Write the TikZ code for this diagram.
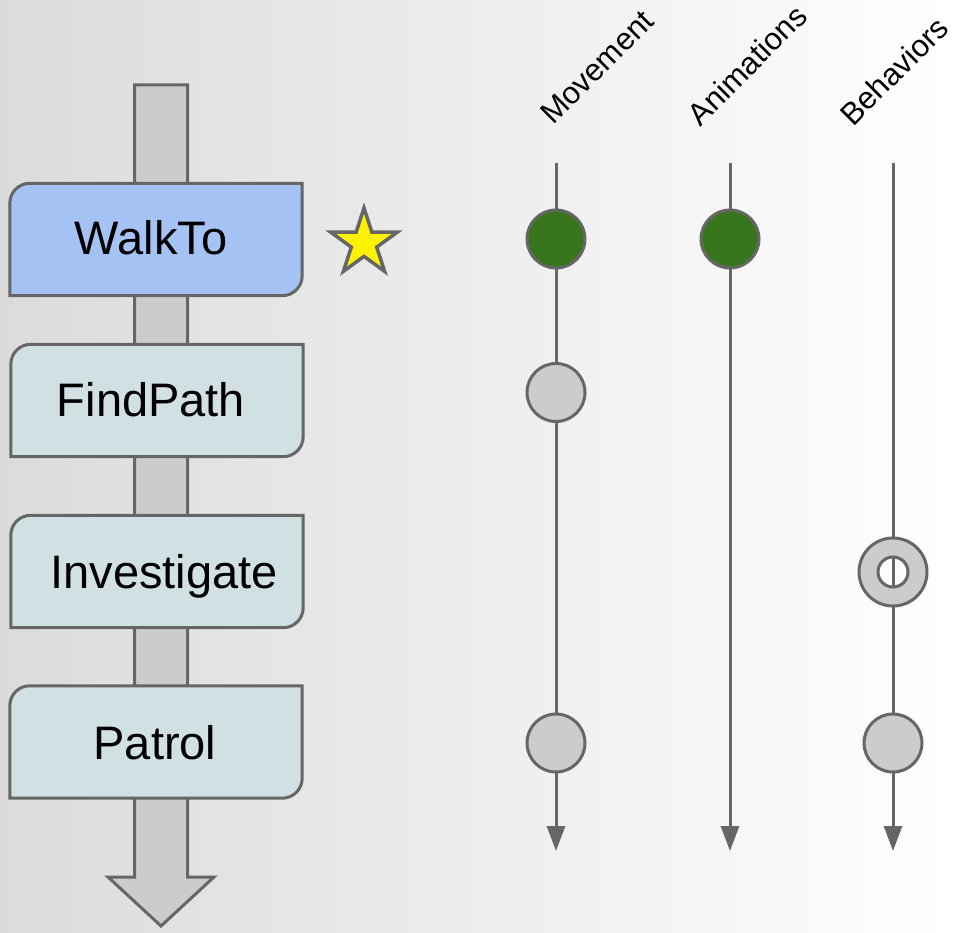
\documentclass[tikz,border=0pt]{standalone}
\usepackage{fontspec}
\setmainfont{Liberation Sans}
\usetikzlibrary{shapes.geometric,arrows.meta,calc}

\definecolor{edgegray}{HTML}{666666}
\definecolor{fillgray}{HTML}{CCCCCC}
\definecolor{activeblue}{HTML}{A4C2F4}
\definecolor{stepcyan}{HTML}{D0E0E3}
\definecolor{activegreen}{HTML}{38761D}
\definecolor{bgleft}{HTML}{DBDBDB}
\definecolor{bgmid}{HTML}{F1F1F1}

% Task box with rounded top-left and bottom-right corners
\newcommand\tabbox[2]{%
  \filldraw[boxline, fill=#2] (#1.south west)
    -- ([yshift=-20pt]#1.north west) arc[start angle=180, end angle=90, radius=20pt]
    -- (#1.north east)
    -- ([yshift=20pt]#1.south east) arc[start angle=0, end angle=-90, radius=20pt]
    -- cycle;}

\begin{document}
\begin{tikzpicture}[x=1pt, y=-1pt,
  boxline/.style={draw=edgegray, line width=3pt},
  stepbox/.style={minimum width=292pt, minimum height=112pt, inner sep=0pt},
  steplabel/.style={anchor=base, font=\fontsize{47}{56}\selectfont, text=black},
  tracklabel/.style={rotate=45, font=\fontsize{31}{36}\selectfont, text=black, inner sep=0pt},
  track/.style={draw=edgegray, line width=3pt, -{Triangle[length=25pt, width=18pt]}},
  dot/.style={circle, draw=edgegray, line width=3pt, minimum size=58pt, inner sep=0pt},
]
\useasboundingbox (0,0) rectangle (956,933);
\shade[left color=bgleft, middle color=bgmid, right color=white] (0,0) rectangle (956,933);

% Stack arrow behind the task boxes
\filldraw[boxline, fill=fillgray, line join=miter]
  (134.5,85) -- (187.5,85) -- (187.5,877) -- (214,877) -- (161,926)
  -- (108,877) -- (134.5,877) -- cycle;

% Task boxes
\node[stepbox] (walkto) at (156,239.5) {};
\node[stepbox] (findpath) at (157,400.5) {};
\node[stepbox] (investigate) at (157,571.5) {};
\node[stepbox] (patrol) at (156,742) {};
\tabbox{walkto}{activeblue}
\tabbox{findpath}{stepcyan}
\tabbox{investigate}{stepcyan}
\tabbox{patrol}{stepcyan}
\node[steplabel] (walkto-t) at (151,255) {WalkTo};
\node[steplabel] (findpath-t) at (151,416) {FindPath};
\node[steplabel] (investigate-t) at (164,588) {Investigate};
\node[steplabel] (patrol-t) at (155,759) {Patrol};

% Current task marker
\node[star, star points=5, star point ratio=2.618, draw=edgegray, line width=3.5pt,
      fill=yellow, minimum size=70pt, inner sep=0pt] (marker) at (364,243) {};

% Track headers
\node[tracklabel] (mov-l) at (597,67) {Movement};
\node[tracklabel] (anim-l) at (747,65) {Animations};
\node[tracklabel] (beh-l) at (894,71) {Behaviors};

% Tracks
\coordinate (mov-top) at (556,163);
\coordinate (mov-end) at (556,851);
\coordinate (anim-top) at (730,163);
\coordinate (anim-end) at (730,851);
\coordinate (beh-top) at (893,163);
\coordinate (beh-end) at (893,851);
\draw[track] (mov-top) -- (mov-end);
\draw[track] (anim-top) -- (anim-end);
\draw[track] (beh-top) -- (beh-end);

% Track events
\node[dot, fill=activegreen] (mov-1) at (556,239) {};
\node[dot, fill=fillgray] (mov-2) at (556,392.5) {};
\node[dot, fill=fillgray] (mov-3) at (556,743) {};
\node[dot, fill=activegreen] (anim-1) at (730,239) {};
\node[dot, fill=fillgray] (beh-2) at (893,743) {};

% Suspended behavior: ring with open centre
\node[circle, minimum size=68pt, inner sep=0pt] (beh-1) at (893,572) {};
\fill[fillgray, even odd rule] (beh-1.center) circle[radius=34pt] (beh-1.center) circle[radius=15pt];
\draw[edgegray, line width=3pt] (beh-1.center) circle[radius=34pt];
\draw[edgegray, line width=3pt] (beh-1.center) circle[radius=15pt];
\end{tikzpicture}
\end{document}
